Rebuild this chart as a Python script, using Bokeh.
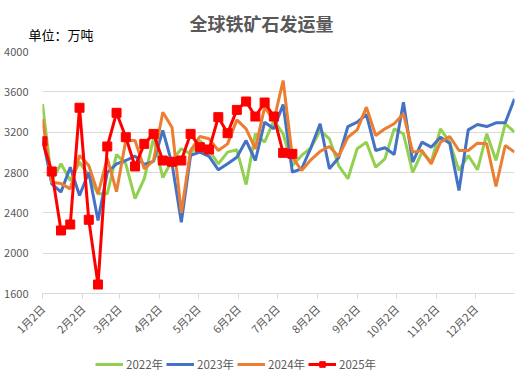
from bokeh.plotting import figure
from bokeh.models import (Range1d, FixedTicker, CustomJSTickFormatter, Legend, LegendItem, Label)
from bokeh.embed import file_html
from bokeh.resources import INLINE
import math

# ---- data (weekly shipments, 10k tonnes) ----
month_labels = ["1月2日", "2月2日", "3月2日", "4月2日", "5月2日", "6月2日",
                "7月2日", "8月2日", "9月2日", "10月2日", "11月2日", "12月2日"]
month_day_offsets = [0, 31, 59, 90, 120, 151, 181, 212, 243, 273, 304, 334]

y2022 = [3480, 2720, 2886, 2720, 2903, 2770, 2589, 2589, 2979, 2886, 2540, 2740, 3140,
         2750, 2919, 3035, 2985, 3117, 3018, 2886, 3002, 3025, 2681, 3184, 3101, 3316,
         3184, 2869, 2969, 3045, 3217, 3134, 2869, 2738, 3035, 3101, 2853, 2936, 3233,
         3184, 2800, 3002, 2903, 3233, 3101, 2820, 2969, 2827, 3184, 2919, 3283, 3200]
y2023 = [3150, 2688, 2606, 2853, 2572, 2803, 2324, 2800, 2886, 2919, 2962, 2880, 2910,
         3217, 2886, 2307, 2969, 3002, 2959, 2827, 2886, 2952, 3117, 2919, 3299, 3233,
         3474, 2803, 2837, 3045, 3283, 2837, 2946, 3256, 3299, 3375, 3018, 3045, 2979,
         3497, 2903, 3101, 3051, 3150, 3091, 2622, 3223, 3276, 3256, 3293, 3293, 3531]
y2024 = [3330, 2704, 2690, 2638, 2969, 2869, 2589, 2940, 2610, 3120, 3117, 2837, 2919,
         3398, 3246, 2400, 3018, 3157, 3134, 3018, 3084, 3322, 3233, 3035, 3448, 3316,
         3712, 2952, 2820, 2926, 3010, 3058, 2959, 3150, 3223, 3448, 3167, 3233, 3283,
         3382, 3002, 3018, 2886, 3101, 3157, 3018, 3018, 3091, 3084, 2661, 3068, 3002]
y2025 = [3110, 2810, 2225, 2284, 3442, 2331, 1689, 3058, 3392, 3150, 2860, 3084, 3183,
         2919, 2906, 2919, 3183, 3051, 3028, 3349, 3190, 3421, 3504, 3355, 3494, 3355,
         2995, 2985]

series_names = ["2022年", "2023年", "2024年", "2025年"]
series_values = [y2022, y2023, y2024, y2025]
colors = ["#92D050", "#4472C4", "#ED7D31", "#FF0000"]

n_weeks = len(y2022)
week_per_day = (n_weeks - 1) / 364.0
tick_pos = [d * week_per_day for d in month_day_offsets]

FONT = "Noto Sans CJK SC"
GRAY = "#595959"
W = 530

# ---------- header (title + unit) ----------
head = figure(width=W, height=43, output_backend="svg", toolbar_location=None,
              x_range=Range1d(0, 1), y_range=Range1d(0, 1), min_border=0,
              x_axis_location=None, y_axis_location=None)
head.outline_line_color = None
head.grid.visible = False
head.add_layout(Label(x=261, y=21, x_units="screen", y_units="screen", text="全球铁矿石发运量",
                      text_font=FONT, text_font_size="18px", text_font_style="bold",
                      text_color=GRAY, text_align="center", text_baseline="middle"))
head.add_layout(Label(x=28, y=9.5, x_units="screen", y_units="screen", text="单位：万吨",
                      text_font=FONT, text_font_size="13px", text_color="black",
                      text_align="left", text_baseline="middle"))

# ---------- main chart ----------
p = figure(width=W, height=312, output_backend="svg", toolbar_location=None,
           x_range=Range1d(0, n_weeks - 1), y_range=Range1d(1600, 4000),
           min_border_left=42, min_border_right=16, min_border_top=8, min_border_bottom=62)
p.outline_line_color = None

for ys, c in zip(series_values[:3], colors[:3]):
    p.line(list(range(len(ys))), ys, line_color=c, line_width=3)
p.line(list(range(len(y2025))), y2025, line_color=colors[3], line_width=3)
p.scatter(list(range(len(y2025))), y2025, marker="square", size=9,
          fill_color=colors[3], line_color=colors[3])

p.xaxis.ticker = FixedTicker(ticks=tick_pos)
p.xaxis.formatter = CustomJSTickFormatter(args=dict(tpos=tick_pos, tlabels=month_labels), code="""
const i = tpos.findIndex(t => Math.abs(t - tick) < 1e-6);
return i >= 0 ? tlabels[i] : '';
""")
p.xaxis.major_label_orientation = math.pi / 4
p.xaxis.axis_line_color = "#D9D9D9"
p.xaxis.major_tick_line_color = "#D9D9D9"
p.xaxis.major_tick_in = 0
p.xaxis.major_tick_out = 5
p.xaxis.minor_tick_line_color = None
p.xaxis.major_label_text_font = FONT
p.xaxis.major_label_text_font_size = "11px"
p.xaxis.major_label_text_color = GRAY
p.xaxis.major_label_standoff = 8

p.yaxis.ticker = FixedTicker(ticks=[1600, 2000, 2400, 2800, 3200, 3600, 4000])
p.yaxis.axis_line_color = None
p.yaxis.major_tick_line_color = None
p.yaxis.minor_tick_line_color = None
p.yaxis.major_label_text_font = FONT
p.yaxis.major_label_text_font_size = "11px"
p.yaxis.major_label_text_color = GRAY
p.yaxis.major_label_standoff = 8

p.xgrid.grid_line_color = None
p.ygrid.grid_line_color = "#D9D9D9"
p.ygrid.grid_line_width = 1

# ---------- legend strip (series drawn off-screen, only their legend shows) ----------
leg = figure(width=W, height=23, output_backend="svg", toolbar_location=None,
             x_range=Range1d(0, 1), y_range=Range1d(0, 1), min_border=0,
             x_axis_location=None, y_axis_location=None)
leg.outline_line_color = None
leg.grid.visible = False
items = []
for name, ys, c in zip(series_names[:3], series_values[:3], colors[:3]):
    r = leg.line(list(range(len(ys))), ys, line_color=c, line_width=3)
    items.append(LegendItem(label=name, renderers=[r]))
rl = leg.line(list(range(len(y2025))), y2025, line_color=colors[3], line_width=3)
rm = leg.scatter(list(range(len(y2025))), y2025, marker="square", size=9,
                 fill_color=colors[3], line_color=colors[3])
items.append(LegendItem(label=series_names[3], renderers=[rl, rm]))

legend = Legend(items=items, orientation="horizontal", location=(95, 6))
legend.label_text_font = FONT
legend.label_text_font_size = "11.5px"
legend.label_text_color = GRAY
legend.glyph_width = 28
legend.glyph_height = 14
legend.label_height = 14
legend.label_standoff = 3
legend.spacing = 3
legend.padding = 0
legend.margin = 0
legend.border_line_color = None
legend.background_fill_alpha = 0
leg.add_layout(legend)

open("out.html", "w").write(file_html([head, p, leg], INLINE))
